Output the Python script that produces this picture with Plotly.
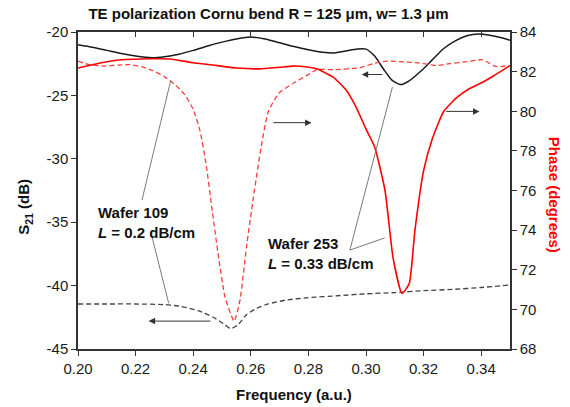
import plotly.graph_objects as go

# Wafer 253 S21 (dB), black solid, left axis
f253_s21 = [0.200, 0.205, 0.210, 0.215, 0.220, 0.2257, 0.230, 0.235, 0.240, 0.245, 0.250, 0.255,
            0.260, 0.265, 0.270, 0.275, 0.280, 0.285, 0.289, 0.293, 0.297, 0.300, 0.303, 0.306,
            0.309, 0.312, 0.315, 0.319, 0.323, 0.327, 0.331, 0.335, 0.339, 0.343, 0.347, 0.350]
s21_253 = [-21.0, -21.2, -21.45, -21.7, -21.9, -22.03, -21.95, -21.75, -21.45, -21.1, -20.8, -20.55,
           -20.4, -20.55, -20.85, -21.15, -21.4, -21.6, -21.65, -21.5, -21.35, -21.35, -21.9, -22.9,
           -23.8, -24.15, -23.85, -23.1, -22.2, -21.3, -20.7, -20.3, -20.15, -20.25, -20.45, -20.65]

# Wafer 109 S21 (dB), black dashed, left axis
f109_s21 = [0.200, 0.210, 0.220, 0.230, 0.236, 0.242, 0.247, 0.2505, 0.253, 0.2555, 0.2585, 0.262,
            0.266, 0.272, 0.280, 0.290, 0.300, 0.310, 0.320, 0.330, 0.340, 0.350]
s21_109 = [-41.45, -41.45, -41.45, -41.5, -41.65, -42.0, -42.5, -43.0, -43.4, -43.1, -42.3, -41.8,
           -41.45, -41.15, -40.95, -40.8, -40.65, -40.55, -40.4, -40.3, -40.15, -39.95]

# Wafer 109 phase (degrees), red dashed, right axis
f109_ph = [0.200, 0.204, 0.209, 0.214, 0.218, 0.222, 0.226, 0.230, 0.234, 0.237, 0.240, 0.2424,
           0.2446, 0.2464, 0.2488, 0.251, 0.2542, 0.2563, 0.2585, 0.2609, 0.2636, 0.2661, 0.270,
           0.2746, 0.2794, 0.283, 0.289, 0.298, 0.3024, 0.307, 0.314, 0.3187, 0.3243, 0.329, 0.335,
           0.3404, 0.3428, 0.345, 0.350]
ph_109 = [82.53, 82.35, 82.28, 82.33, 82.35, 82.25, 82.05, 81.75, 81.3, 80.85, 80.1, 79.0,
          77.2, 75.2, 72.65, 70.65, 69.4, 70.5, 73.15, 75.65, 78.2, 80.0, 80.95,
          81.4, 81.8, 82.1, 82.1, 82.2, 82.4, 82.53, 82.48, 82.44, 82.3, 82.4, 82.5,
          82.6, 82.43, 82.26, 82.3]

# Wafer 253 phase (degrees), red solid, right axis
f253_ph = [0.200, 0.205, 0.210, 0.215, 0.225, 0.232, 0.240, 0.246, 0.255, 0.263, 0.270, 0.2746,
           0.279, 0.2829, 0.2886, 0.2932, 0.2966, 0.300, 0.303, 0.3066, 0.3094, 0.3125, 0.315,
           0.317, 0.320, 0.323, 0.327, 0.3316, 0.336, 0.341, 0.345, 0.350]
ph_253 = [82.18, 82.35, 82.5, 82.6, 82.65, 82.64, 82.45, 82.35, 82.18, 82.14, 82.22, 82.28,
          82.25, 82.14, 81.72, 81.05, 80.2, 79.1, 78.2, 76.0, 72.6, 70.8, 71.3,
          74.0, 77.0, 78.6, 80.0, 80.7, 81.15, 81.5, 81.85, 82.3]

x_ticks = [0.20, 0.22, 0.24, 0.26, 0.28, 0.30, 0.32, 0.34]
x_ticktext = ["0.20", "0.22", "0.24", "0.26", "0.28", "0.30", "0.32", "0.34"]
y_left_ticks = [-45, -40, -35, -30, -25, -20]
y_left_ticktext = ["-45", "-40", "-35", "-30", "-25", "-20"]
y_right_ticks = [68, 70, 72, 74, 76, 78, 80, 82, 84]

title_text = "TE polarization Cornu bend R = 125 \u03bcm, w= 1.3 \u03bcm"

FONT = "Arial, Liberation Sans, sans-serif"
AX = "#333333"

fig = go.Figure()
fig.add_trace(go.Scatter(x=f253_s21, y=s21_253, mode="lines", line=dict(color="#1a1a1a", width=1.5, shape="spline", smoothing=0.6), yaxis="y", showlegend=False))
fig.add_trace(go.Scatter(x=f109_s21, y=s21_109, mode="lines", line=dict(color="#444444", width=1.3, dash="5px,3px", shape="spline", smoothing=0.6), yaxis="y", showlegend=False))
fig.add_trace(go.Scatter(x=f109_ph, y=ph_109, mode="lines", line=dict(color="#ff3b3b", width=1.3, dash="5px,3px", shape="spline", smoothing=0.5), yaxis="y2", showlegend=False))
fig.add_trace(go.Scatter(x=f253_ph, y=ph_253, mode="lines", line=dict(color="#ff0000", width=1.6, shape="spline", smoothing=0.5), yaxis="y2", showlegend=False))
# invisible trace to activate top axis
fig.add_trace(go.Scatter(x=[0.2], y=[-45], xaxis="x2", yaxis="y", mode="markers", marker=dict(opacity=0), showlegend=False, hoverinfo="skip"))

tickfont = dict(family=FONT, size=15, color="#1a1a1a")

fig.update_layout(
    width=570, height=407,
    margin=dict(l=77.5, r=59.5, t=31.5, b=58),
    paper_bgcolor="white", plot_bgcolor="white",
    font=dict(family=FONT, color="#1a1a1a"),
    title=dict(text="<b>" + title_text + "</b>", x=0.471, xanchor="center", xref="container",
               y=1 - 14 / 407, yanchor="middle", font=dict(size=15, color="#111111")),
    xaxis=dict(range=[0.2, 0.35], tickvals=x_ticks, ticktext=x_ticktext, ticks="outside", ticklen=5,
               tickwidth=1.3, tickcolor=AX, showline=True, linecolor=AX, linewidth=1.5, showgrid=False,
               zeroline=False, tickfont=tickfont),
    xaxis2=dict(range=[0.2, 0.35], overlaying="x", side="top", tickvals=x_ticks, ticks="inside", ticklen=5,
                tickwidth=1.3, tickcolor=AX, showline=True, linecolor=AX, linewidth=1.5, showgrid=False,
                zeroline=False, showticklabels=False),
    yaxis=dict(range=[-45, -20], tickvals=y_left_ticks, ticktext=y_left_ticktext, ticks="outside", ticklen=5,
               tickwidth=1.3, tickcolor=AX, showline=True, linecolor=AX, linewidth=1.5, showgrid=False,
               zeroline=False, tickfont=tickfont),
    yaxis2=dict(range=[68, 84], tickvals=y_right_ticks, overlaying="y", side="right", ticks="outside",
                ticklen=5, tickwidth=1.3, tickcolor=AX, showline=True, linecolor=AX, linewidth=1.5,
                showgrid=False, zeroline=False, tickfont=tickfont),
)

# axis titles
fig.add_annotation(text="<b>Frequency (a.u.)</b>", xref="paper", yref="paper", x=0.5, y=(349 - 395) / 317.5,
                   showarrow=False, font=dict(size=15, color="#111111"), xanchor="center", yanchor="middle")
fig.add_annotation(text="<b>S<sub>21</sub> (dB)</b>", xref="paper", yref="paper", x=(24 - 77.5) / 433,
                   y=(349 - 207) / 317.5, showarrow=False, textangle=-90, font=dict(size=15, color="#111111"),
                   xanchor="center", yanchor="middle")
fig.add_annotation(text="<b>Phase (degrees)</b>", xref="paper", yref="paper", x=(555 - 77.5) / 433,
                   y=(349 - 195) / 317.5, showarrow=False, textangle=90, font=dict(size=15, color="#ff0000"),
                   xanchor="center", yanchor="middle")

# labels
fig.add_annotation(text="<b>Wafer 109</b><br><b><i>L</i> = 0.2 dB/cm</b>", xref="x", yref="y", x=0.2063, y=-35.0,
                   showarrow=False, align="left", xanchor="left", yanchor="middle", font=dict(size=15, color="#111111"))
fig.add_annotation(text="<b>Wafer 253</b><br><b><i>L</i> = 0.33 dB/cm</b>", xref="x", yref="y", x=0.2652, y=-37.45,
                   showarrow=False, align="left", xanchor="left", yanchor="middle", font=dict(size=15, color="#111111"))

# pointer lines
for (x0, y0, x1, y1) in [(0.2222, -33.27, 0.2322, -23.82), (0.2257, -36.16, 0.2315, -41.40),
                         (0.2944, -37.2, 0.3092, -24.33), (0.2944, -37.2, 0.3065, -36.24)]:
    fig.add_shape(type="line", xref="x", yref="y", x0=x0, y0=y0, x1=x1, y1=y1,
                  line=dict(color="#7a7a7a", width=1))

# arrows indicating axis
for (hx, tx, yy) in [(0.2245, 0.2465, -42.8), (0.2811, 0.2673, -27.15), (0.2985, 0.3062, -23.35), (0.3394, 0.3273, -26.26)]:
    fig.add_annotation(x=hx, y=yy, ax=tx, ay=yy, xref="x", yref="y", axref="x", ayref="y", text="",
                       showarrow=True, arrowhead=2, arrowsize=1.3, arrowwidth=1, arrowcolor="#333333")

fig.write_html("out.html")
